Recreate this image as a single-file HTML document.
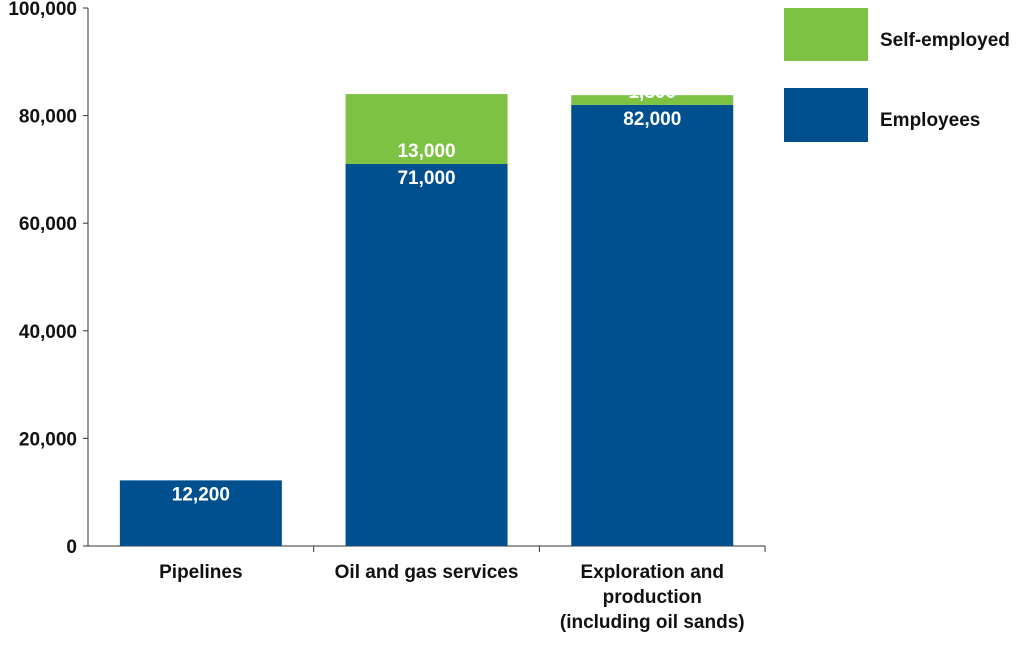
<!DOCTYPE html>
<html><head><meta charset="utf-8"><style>
body{margin:0;background:#fff;font-family:"Liberation Sans",sans-serif;}
svg text{font-family:"Liberation Sans",sans-serif;font-weight:bold;}
</style></head><body>
<svg width="1024" height="641" xmlns="http://www.w3.org/2000/svg">
<g id="axes"></g><g id="bars"></g>
<g>
<rect x="784" y="8" width="84" height="53" fill="#7dc242"/>
<text x="880" y="46" font-size="19" fill="#111">Self-employed</text>
<rect x="784" y="88" width="84" height="54" fill="#00508f"/>
<text x="880" y="126" font-size="19" fill="#111">Employees</text>
</g>
</svg>
<script>
const categories=[["Pipelines"],["Oil and gas services"],["Exploration and","production","(including oil sands)"]];
const employees=[12200,71000,82000];
const selfEmployed=[0,13000,1800];
const yTicks=[0,20000,40000,60000,80000,100000];
const NS="http://www.w3.org/2000/svg";
const y0=546,y1=8,x0=88,xEnd=765,slot=225.7,barW=162;
const y=v=>y0-(v/100000)*(y0-y1);
const fmt=v=>v.toLocaleString("en-US");
function mk(t,a,p){const e=document.createElementNS(NS,t);for(const k in a)e.setAttribute(k,a[k]);p.appendChild(e);return e;}
const ax=document.getElementById("axes"),bars=document.getElementById("bars");
let l=mk("line",{x1:x0,y1:y1,x2:x0,y2:y0,stroke:"#333","stroke-width":1},ax);


l=mk("line",{x1:x0,y1:y0,x2:xEnd,y2:y0,stroke:"#333","stroke-width":1},ax);


yTicks.forEach(v=>{
 const t=mk("text",{x:77,y:y(v)+7,"text-anchor":"end","font-size":19,fill:"#111"},ax);t.textContent=fmt(v);
 
 
 const tk=mk("line",{x1:x0-5,y1:y(v),x2:x0,y2:y(v),stroke:"#333"},ax);
 
 
});
categories.forEach((c,i)=>{
 const sx=x0+slot*i,cx=sx+slot/2,bx=cx-barW/2;
 const tk=mk("line",{x1:sx+slot,y1:y0,x2:sx+slot,y2:y0+6,stroke:"#333"},ax);
 
 
 c.forEach((ln,j)=>{const t=mk("text",{x:cx,y:578+j*25,"text-anchor":"middle","font-size":19,fill:"#111"},ax);t.textContent=ln;
  
  });
 const e=employees[i],s=selfEmployed[i];
 const r=mk("rect",{x:bx,y:y(e),width:barW,height:y0-y(e),fill:"#00508f"},bars);
 
 
 const t=mk("text",{x:cx,y:y(e)+20,"text-anchor":"middle","font-size":19,fill:"#fff"},bars);t.textContent=fmt(e);
 
 
 if(s>0){
  const r2=mk("rect",{x:bx,y:y(e+s),width:barW,height:y(e)-y(e+s),fill:"#7dc242"},bars);
  
  
  const t2=mk("text",{x:cx,y:y(e)-7,"text-anchor":"middle","font-size":19,fill:"#fff"},bars);t2.textContent=fmt(s);
  
  
 }
});
</script>
</body></html>
